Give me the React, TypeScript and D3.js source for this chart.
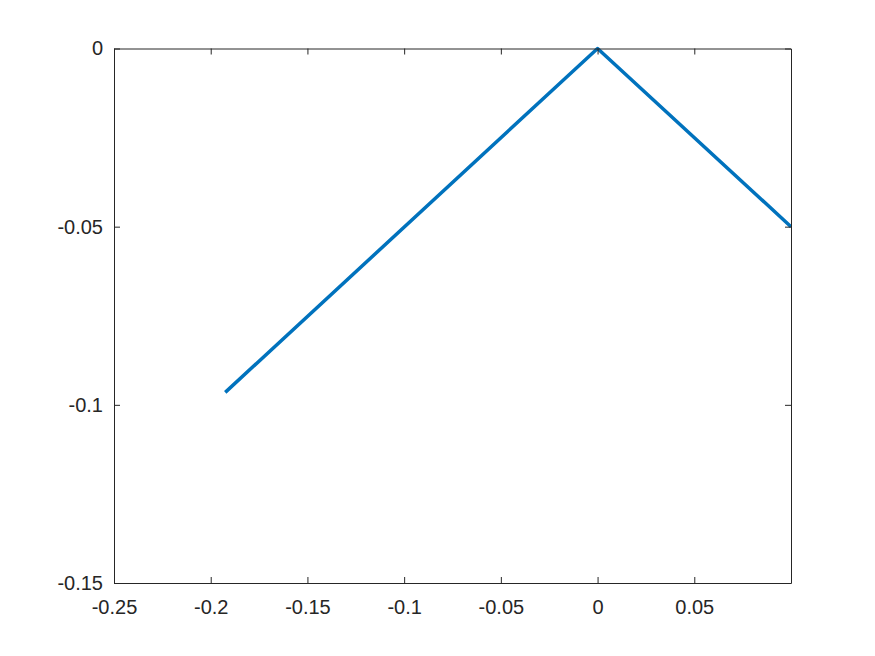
import React, { useEffect, useRef } from "react";
import * as d3 from "d3";

// Data
const xValues = [-0.1925, 0, 0.1];
const yValues = [-0.0965, 0, -0.05];
const xTicks = [-0.25, -0.2, -0.15, -0.1, -0.05, 0, 0.05];
const yTicks = [-0.15, -0.1, -0.05, 0];

export default function App() {
  const ref = useRef<SVGSVGElement>(null);

  useEffect(() => {
    const svg = d3.select(ref.current);
    svg.selectAll("*").remove();

    const left = 114;
    const right = 791;
    const top = 48.5;
    const bottom = 583;
    const tickLen = 6;
    const axisColor = "#262626";

    const x = d3.scaleLinear().domain([-0.25, 0.1]).range([left, right]);
    const y = d3.scaleLinear().domain([-0.15, 0]).range([bottom, top]);

    svg.append("rect").attr("width", 875).attr("height", 656).attr("fill", "#fff");

    // Line
    const pts = xValues.map((v, i) => [v, yValues[i]] as [number, number]);
    const line = d3
      .line<[number, number]>()
      .x((d) => x(d[0]))
      .y((d) => y(d[1]));
    svg
      .append("path")
      .datum(pts)
      .attr("d", line)
      .attr("fill", "none")
      .attr("stroke", "#0072BD")
      .attr("stroke-width", 3.5)
      .attr("stroke-linejoin", "round");

    // Axes box
    const fmt = (d: number) => String(+d.toFixed(2));
    const font = "'Liberation Sans', Arial, sans-serif";

    const bottomAxis = svg
      .append("g")
      .attr("transform", `translate(0,${bottom})`)
      .call(d3.axisBottom(x).tickValues(xTicks).tickFormat(fmt as any).tickSizeInner(-tickLen).tickSizeOuter(0).tickPadding(17));
    const topAxis = svg
      .append("g")
      .attr("transform", `translate(0,${top})`)
      .call(d3.axisTop(x).tickValues(xTicks).tickFormat(() => "").tickSizeInner(-tickLen).tickSizeOuter(0));
    const leftAxis = svg
      .append("g")
      .attr("transform", `translate(${left},0)`)
      .call(d3.axisLeft(y).tickValues(yTicks).tickFormat(fmt as any).tickSizeInner(-tickLen).tickSizeOuter(0).tickPadding(11));
    const rightAxis = svg
      .append("g")
      .attr("transform", `translate(${right},0)`)
      .call(d3.axisRight(y).tickValues(yTicks).tickFormat(() => "").tickSizeInner(-tickLen).tickSizeOuter(0));

    [bottomAxis, topAxis, leftAxis, rightAxis].forEach((g) => {
      g.attr("font-size", 20).attr("font-family", font);
      g.select(".domain").attr("stroke", axisColor);
      g.selectAll(".tick line").attr("stroke", axisColor);
      g.selectAll(".tick text").attr("fill", axisColor);
    });
  }, []);

  return (
    <div>
      <svg
        ref={ref}
        width={875}
        height={656}
        style={{ position: "absolute", left: 0, top: 0 }}
      ></svg>
    </div>
  );
}
